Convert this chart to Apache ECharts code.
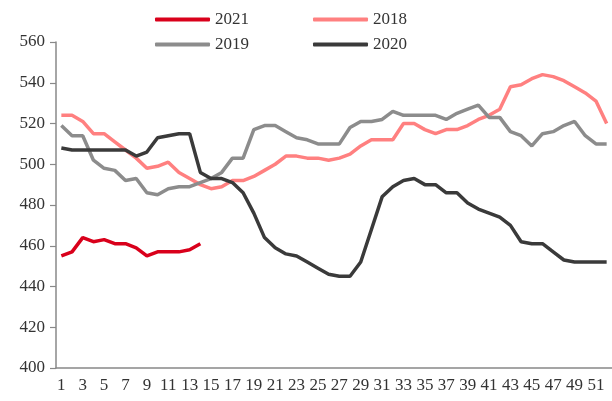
<!DOCTYPE html>
<html>
<head>
<meta charset="utf-8">
<script src="https://cdn.jsdelivr.net/npm/echarts@6/dist/echarts.min.js"></script>
<style>
  html, body { margin: 0; padding: 0; background: #fff; }
  #chart { width: 612px; height: 401px; }
</style>
</head>
<body>
<div id="chart"></div>
<script>
// week numbers 1..52
const weeks = ['1','2','3','4','5','6','7','8','9','10','11','12','13','14','15','16','17','18','19','20',
  '21','22','23','24','25','26','27','28','29','30','31','32','33','34','35','36','37','38','39','40',
  '41','42','43','44','45','46','47','48','49','50','51','52']

const s2021 = [455, 457, 464, 462, 463, 461, 461, 459, 455, 457, 457, 457, 458, 461]
const s2018 = [524, 524, 521, 515, 515, 511, 507, 503, 498, 499, 501, 496, 493, 490, 488, 489, 492, 492, 494, 497,
  500, 504, 504, 503, 503, 502, 503, 505, 509, 512, 512, 512, 520, 520, 517, 515, 517, 517, 519, 522,
  524, 527, 538, 539, 542, 544, 543, 541, 538, 535, 531, 520]
const s2019 = [519, 514, 514, 502, 498, 497, 492, 493, 486, 485, 488, 489, 489, 491, 493, 496, 503, 503, 517, 519,
  519, 516, 513, 512, 510, 510, 510, 518, 521, 521, 522, 526, 524, 524, 524, 524, 522, 525, 527, 529,
  523, 523, 516, 514, 509, 515, 516, 519, 521, 514, 510, 510]
const s2020 = [508, 507, 507, 507, 507, 507, 507, 504, 506, 513, 514, 515, 515, 496, 493, 493, 491, 486, 476, 464,
  459, 456, 455, 452, 449, 446, 445, 445, 452, 468, 484, 489, 492, 493, 490, 490, 486, 486, 481, 478,
  476, 474, 470, 462, 461, 461, 457, 453, 452, 452, 452, 452]

const font = 'Liberation Serif'
const chart = echarts.init(document.getElementById('chart'))

function line(name, data, color) {
  return {
    name: name,
    type: 'line',
    data: data,
    showSymbol: false,
    symbol: 'none',
    lineStyle: { color: color, width: 3.5 },
    itemStyle: { color: color },
    animation: false
  }
}

const legendBase = {
  left: 150,
  itemWidth: 55,
  itemHeight: 4,
  itemGap: 64,
  icon: 'roundRect',
  textStyle: { fontFamily: font, fontSize: 17, color: '#333' }
}

chart.setOption({
  animation: false,
  legend: [
    Object.assign({}, legendBase, { top: 6, data: ['2021', '2018'] }),
    Object.assign({}, legendBase, { top: 31, data: ['2019', '2020'] })
  ],
  grid: { left: 56, right: 0, top: 42, bottom: 33 },
  xAxis: {
    type: 'category',
    data: weeks,
    boundaryGap: true,
    axisLine: { lineStyle: { color: '#888', width: 1.5 } },
    axisTick: { interval: 0, length: 6, lineStyle: { color: '#888', width: 1.2 } },
    axisLabel: { interval: 1, margin: 9, fontFamily: font, fontSize: 17, color: '#333' }
  },
  yAxis: {
    type: 'value',
    min: 400,
    max: 560,
    interval: 20,
    axisLine: { show: true, lineStyle: { color: '#888', width: 1.5 } },
    axisTick: { show: true, length: 6, lineStyle: { color: '#888', width: 1.2 } },
    axisLabel: { margin: 11, fontFamily: font, fontSize: 17, color: '#333' },
    splitLine: { show: false }
  },
  series: [
    line('2021', s2021, '#d9001b'),
    line('2018', s2018, '#ff8080'),
    line('2019', s2019, '#8c8c8c'),
    line('2020', s2020, '#3a3a3a')
  ]
})
</script>
</body>
</html>
